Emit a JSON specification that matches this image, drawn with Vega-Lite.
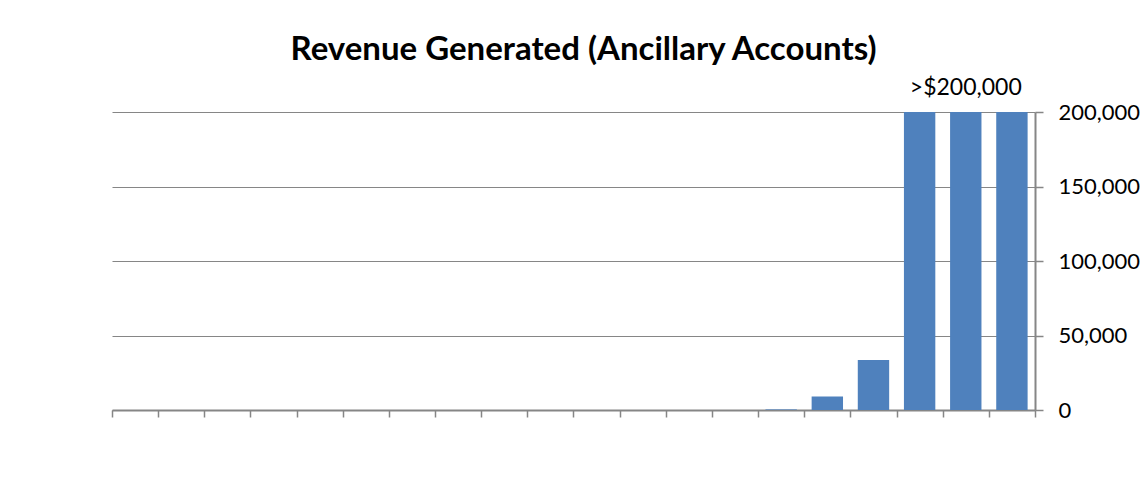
{
  "$schema": "https://vega.github.io/schema/vega-lite/v6.json",
  "autosize": {"type": "none"},
  "width": 923,
  "height": 298,
  "padding": {"left": 112, "top": 112, "right": 106, "bottom": 77},
  "background": "white",
  "title": {
    "text": "Revenue Generated (Ancillary Accounts)",
    "anchor": "middle",
    "font": "Lato",
    "fontSize": 33,
    "fontWeight": "bold",
    "color": "black",
    "offset": 10,
    "dx": 10
  },
  "data": {
    "values": [
      {"cat": "1", "value": 0},
      {"cat": "2", "value": 0},
      {"cat": "3", "value": 0},
      {"cat": "4", "value": 0},
      {"cat": "5", "value": 0},
      {"cat": "6", "value": 0},
      {"cat": "7", "value": 0},
      {"cat": "8", "value": 0},
      {"cat": "9", "value": 0},
      {"cat": "10", "value": 0},
      {"cat": "11", "value": 0},
      {"cat": "12", "value": 0},
      {"cat": "13", "value": 0},
      {"cat": "14", "value": 0},
      {"cat": "15", "value": 400},
      {"cat": "16", "value": 9000},
      {"cat": "17", "value": 33500},
      {"cat": "18", "value": 200000},
      {"cat": "19", "value": 200000, "note": ">$200,000"},
      {"cat": "20", "value": 200000}
    ]
  },
  "encoding": {
    "x": {
      "field": "cat",
      "type": "ordinal",
      "sort": null,
      "scale": {"paddingInner": 0, "paddingOuter": 0},
      "axis": {
        "title": null,
        "labels": false,
        "tickBand": "extent",
        "domainColor": "#868686",
        "domainWidth": 2,
        "tickColor": "#868686",
        "tickWidth": 1.5,
        "tickSize": 7,
        "grid": false
      }
    },
    "y": {
      "field": "value",
      "type": "quantitative",
      "scale": {"domain": [0, 200000], "nice": false},
      "axis": {
        "orient": "right",
        "title": null,
        "values": [0, 50000, 100000, 150000, 200000],
        "format": ",.0f",
        "labelFont": "Lato",
        "labelFontSize": 22,
        "labelColor": "black",
        "labelPadding": 15,
        "domainColor": "#868686",
        "domainWidth": 2,
        "tickColor": "#868686",
        "tickWidth": 1.5,
        "tickSize": 8,
        "grid": true,
        "gridColor": "#868686",
        "gridWidth": 1.2
      }
    }
  },
  "layer": [
    {
      "mark": {"type": "bar", "color": "#4F81BD", "width": {"band": 0.68}}
    },
    {
      "transform": [{"filter": "isValid(datum.note)"}],
      "mark": {"type": "text", "font": "Lato", "fontSize": 23, "color": "black", "dy": -24, "baseline": "middle"},
      "encoding": {"text": {"field": "note"}}
    }
  ],
  "config": {"view": {"stroke": null}}
}
